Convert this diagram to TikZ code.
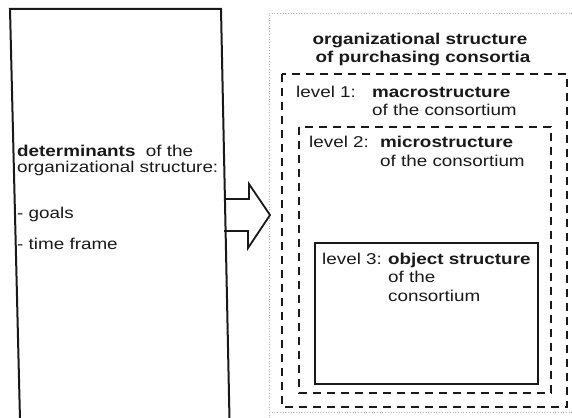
\documentclass[tikz,border=0pt]{standalone}
\usepackage{fontspec}
\setmainfont{Liberation Sans}[FakeStretch=1.2]
\begin{document}
\begin{tikzpicture}[x=1pt,y=-1pt,
  txt/.style={inner sep=0pt,anchor=base west,text=black!90,
    font=\fontsize{15.7}{17}\selectfont},
  ctxt/.style={txt,anchor=base},
  boxline/.style={draw=black!90,line width=2pt},
  levelframe/.style={draw=black!90,line width=2.4pt,dash pattern=on 8pt off 6pt},
  paper/.style={draw=black!30,line width=0.7pt,dotted},
  blockarrow/.style={draw=black!90,line width=1.8pt,line join=miter}]
\useasboundingbox (0,0) rectangle (572,417);

% left panel: determinants
\coordinate (lt) at (10,9);
\coordinate (rt) at (221,9);
\coordinate (rb) at (229.5,420);
\coordinate (lb) at (20,420);
\draw[boxline] (lb) -- (lt) -- (rt) -- (rb);

\node[txt] (det1) at (17,156) {\textbf{determinants}\ \ of the};
\node[txt] (det2) at (17,172) {organizational structure:};
\node[txt] (goals) at (17,218) {- goals};
\node[txt] (time) at (17,249) {- time frame};

% right panel: sheet with nested levels
\draw[paper] (269,418) -- (269,13) -- (575,13);
\draw[paper] (269,412) -- (575,412);

\node[ctxt] (title1) at (420,45) {\textbf{organizational structure}};
\node[ctxt] (title2) at (423,63) {\textbf{of purchasing consortia}};

\draw[levelframe] (282,74) rectangle (567,407);
\node[txt] (l1a) at (296,98) {level 1:};
\node[txt] (l1b) at (372,98) {\textbf{macrostructure}};
\node[txt] (l1c) at (372,116) {of the consortium};

\draw[levelframe] (299,127) rectangle (551,393);
\node[txt] (l2a) at (309,147) {level 2:};
\node[txt] (l2b) at (380,147) {\textbf{microstructure}};
\node[txt] (l2c) at (380,166) {of the consortium};

\draw[boxline] (315,243) rectangle (538,384);
\node[txt] (l3a) at (322,264) {level 3:};
\node[txt] (l3b) at (388,264) {\textbf{object structure}};
\node[txt] (l3c) at (388,282) {of the};
\node[txt] (l3d) at (388,301) {consortium};

% block arrow from the determinants to the structure
\coordinate (sa) at (224,199);
\coordinate (sb) at (224,231);
\draw[blockarrow] (sa) -- (249,199) -- (249,184) -- (270,215) -- (248,248)
  -- (248,231) -- (sb);
\end{tikzpicture}
\end{document}
